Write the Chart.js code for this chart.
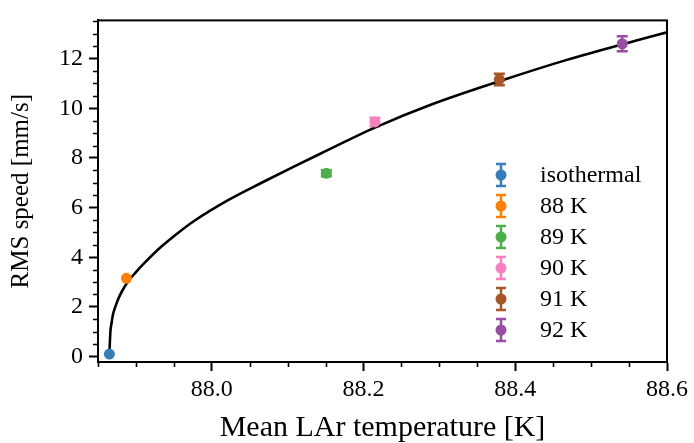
<!DOCTYPE html>
<html>
<head>
<meta charset="utf-8">
<script src="https://cdn.jsdelivr.net/npm/chart.js@4.4.1/dist/chart.umd.min.js"></script>
<style>
  html, body { margin: 0; padding: 0; background: #fff; }
  #rmsChart { display: block; }
</style>
</head>
<body>
<canvas id="rmsChart" width="694" height="443"></canvas>
<script>
// measured runs
const seriesLabels = ["isothermal", "88 K", "89 K", "90 K", "91 K", "92 K"];
const seriesColors = ["#377eb8", "#ff7f00", "#4daf4a", "#f781bf", "#a65628", "#984ea3"];
const meanTemp = [87.865, 87.8875, 88.151, 88.215, 88.379, 88.541];
const rmsSpeed = [0.1, 3.15, 7.38, 9.45, 11.16, 12.6];
const rmsError = [0, 0, 0.12, 0.17, 0.23, 0.3];

// fitted curve
const fitTemp = [87.865, 87.8664, 87.8678, 87.8698, 87.873, 87.8764, 87.882, 87.8896, 87.9,
  87.9116, 87.9336, 87.955, 87.9776, 88.0215, 88.0656, 88.1095, 88.145, 88.215,
  88.292, 88.38, 88.468, 88.556, 88.6];
const fitSpeed = [0.1, 1.03, 1.33, 1.7, 2.02, 2.3, 2.65, 3.02, 3.4,
  3.78, 4.43, 4.97, 5.48, 6.3, 7.0, 7.67, 8.2, 9.22,
  10.18, 11.1, 11.95, 12.7, 13.06];

// axes
const xTicks = [88.0, 88.2, 88.4, 88.6];
const yTicks = [0, 2, 4, 6, 8, 10, 12];
const xRange = [87.85, 88.6];
const yRange = [-0.22, 13.54];

const FONT = "'Liberation Serif', 'DejaVu Serif', serif";

// error bars go under the markers, like matplotlib
const errorBars = {
  id: "errorBars",
  beforeDatasetsDraw(chart) {
    const { ctx, scales: { x, y } } = chart;
    ctx.save();
    meanTemp.forEach((t, i) => {
      if (!rmsError[i]) return;
      const px = x.getPixelForValue(t);
      const top = y.getPixelForValue(rmsSpeed[i] + rmsError[i]);
      const bot = y.getPixelForValue(rmsSpeed[i] - rmsError[i]);
      ctx.strokeStyle = seriesColors[i];
      ctx.lineWidth = 2.5;
      ctx.beginPath();
      ctx.moveTo(px, top); ctx.lineTo(px, bot);
      ctx.moveTo(px - 5.5, top); ctx.lineTo(px + 5.5, top);
      ctx.moveTo(px - 5.5, bot); ctx.lineTo(px + 5.5, bot);
      ctx.stroke();
    });
    ctx.restore();
  }
};

const frame = {
  id: "frame",
  afterDraw(chart) {
    const { ctx, chartArea: a, scales: { x, y } } = chart;
    ctx.save();
    ctx.strokeStyle = "#000";
    ctx.lineWidth = 2;
    ctx.strokeRect(a.left, a.top, a.right - a.left, a.bottom - a.top);

    // minor ticks
    ctx.lineWidth = 1.6;
    ctx.beginPath();
    for (let k = 0; k <= 27; k++) {
      const v = k * 0.5;
      if (v % 2 === 0) continue;
      const py = Math.round(y.getPixelForValue(v)) + 0.5;
      ctx.moveTo(a.left - 5, py); ctx.lineTo(a.left, py);
    }
    for (let k = 0; k <= 15; k++) {
      const v = 87.85 + k * 0.05;
      if (Math.abs((v - 88.0) / 0.2 - Math.round((v - 88.0) / 0.2)) < 1e-6) continue;
      const px = Math.round(x.getPixelForValue(v)) + 0.5;
      ctx.moveTo(px, a.bottom); ctx.lineTo(px, a.bottom + 5);
    }
    ctx.stroke();

    // legend
    const lx = 501, ly0 = 175, step = 31;
    seriesLabels.forEach((label, i) => {
      const cy = ly0 + i * step;
      ctx.strokeStyle = seriesColors[i];
      ctx.fillStyle = seriesColors[i];
      ctx.lineWidth = 2.5;
      ctx.beginPath();
      ctx.moveTo(lx, cy - 11); ctx.lineTo(lx, cy + 11);
      ctx.moveTo(lx - 5, cy - 11); ctx.lineTo(lx + 5, cy - 11);
      ctx.moveTo(lx - 5, cy + 11); ctx.lineTo(lx + 5, cy + 11);
      ctx.stroke();
      ctx.beginPath();
      ctx.arc(lx, cy, 5.5, 0, Math.PI * 2);
      ctx.fill();
      ctx.fillStyle = "#000";
      ctx.font = "24px " + FONT;
      ctx.textBaseline = "middle";
      ctx.textAlign = "left";
      ctx.fillText(label, 540, cy + 1);
    });
    ctx.restore();
  }
};

const datasets = seriesLabels.map((label, i) => ({
  label,
  data: [{ x: meanTemp[i], y: rmsSpeed[i] }],
  showLine: false,
  pointRadius: 5.5,
  pointHoverRadius: 5.5,
  pointBorderWidth: 0,
  pointBackgroundColor: seriesColors[i],
  borderColor: seriesColors[i],
  order: 1
}));

datasets.push({
  label: "fit",
  data: fitTemp.map((t, j) => ({ x: t, y: fitSpeed[j] })),
  showLine: true,
  borderColor: "#000",
  borderWidth: 2.6,
  pointRadius: 0,
  cubicInterpolationMode: "monotone",
  fill: false,
  order: 2
});

const tickFont = { size: 24, family: FONT };

new Chart(document.getElementById("rmsChart"), {
  type: "scatter",
  data: { datasets },
  plugins: [errorBars, frame],
  options: {
    responsive: false,
    animation: false,
    layout: { padding: { top: 13, right: 27, left: 0, bottom: 0 } },
    plugins: {
      legend: { display: false },
      tooltip: { enabled: false }
    },
    scales: {
      x: {
        type: "linear",
        min: xRange[0],
        max: xRange[1],
        afterBuildTicks: s => { s.ticks = xTicks.map(v => ({ value: v })); },
        afterFit: s => { s.height = 81; },
        ticks: {
          color: "#000",
          font: tickFont,
          padding: 4,
          maxRotation: 0,
          callback: v => Number(v).toFixed(1)
        },
        grid: { drawOnChartArea: false, drawTicks: true, tickLength: 9, tickWidth: 2, tickColor: "#000" },
        border: { display: true, color: "#000", width: 2 },
        title: {
          display: true,
          text: "Mean LAr temperature [K]",
          color: "#000",
          font: { size: 30, family: FONT },
          padding: { top: 0, bottom: -3 }
        }
      },
      y: {
        type: "linear",
        min: yRange[0],
        max: yRange[1],
        afterBuildTicks: s => { s.ticks = yTicks.map(v => ({ value: v })); },
        afterFit: s => { s.width = 98; },
        ticks: {
          color: "#000",
          font: tickFont,
          padding: 6,
          callback: v => String(v)
        },
        grid: { drawOnChartArea: false, drawTicks: true, tickLength: 9, tickWidth: 2, tickColor: "#000" },
        border: { display: true, color: "#000", width: 2 },
        title: {
          display: true,
          text: "RMS speed [mm/s]",
          color: "#000",
          font: { size: 25, family: FONT },
          padding: { top: 6, bottom: 0 }
        }
      }
    }
  }
});
</script>
</body>
</html>
